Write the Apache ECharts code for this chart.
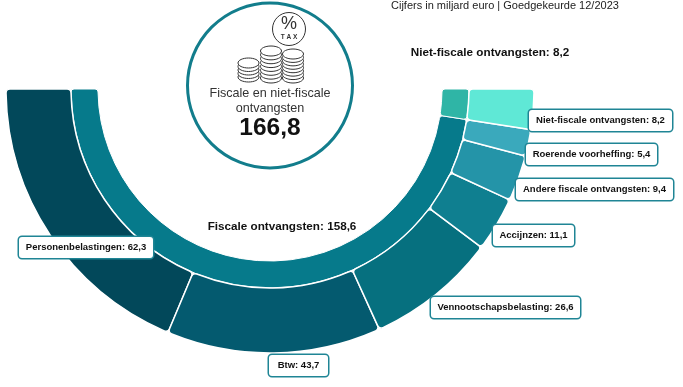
<!DOCTYPE html>
<html><head><meta charset="utf-8">
<style>html,body{margin:0;padding:0;background:#fff}#c{width:683px;height:387px}</style>
<script src="https://cdn.jsdelivr.net/npm/echarts@6/dist/echarts.min.js"></script>
</head><body><div id="c"></div>
<script>
const unitNote = 'Cijfers in miljard euro | Goedgekeurde 12/2023';
const centerTitle = ['Fiscale en niet-fiscale', 'ontvangsten'];
const totalLabel = '166,8';
const innerNames = ['Fiscale ontvangsten', 'Niet-fiscale ontvangsten'];
const innerValues = [158.6, 8.2];
const innerColors = ['#067a8b', '#2fb5a6'];
const outerNames = ['Personenbelastingen', 'Btw', 'Vennootschapsbelasting', 'Accijnzen', 'Andere fiscale ontvangsten', 'Roerende voorheffing', 'Niet-fiscale ontvangsten'];
const outerValues = [62.3, 43.7, 26.6, 11.1, 9.4, 5.4, 8.2];
const outerColors = ['#02485a', '#045a6f', '#06707f', '#0f7f90', '#2494a8', '#3aa9bc', '#5fe8d6'];
// label box positions: left, top, width
const outerBoxes = [[18,236,136],[268,354,61],[430,296,151],[492,224,83],[515,178,159],[525,143,133],[528,109,145]];
const innerLabelPos = [[282,227],[490,53]];

const fmt = v => v.toFixed(1).replace('.', ',');
const chart = echarts.init(document.getElementById('c'), null, {renderer:'canvas'});
const font = 'Liberation Sans';

function stack(cx, top, bottom, n){
  const out = [];
  const step = (bottom-top)/(n-1);
  for(let i=n-1;i>=0;i--){
    out.push({type:'ellipse', shape:{cx:cx, cy:top+i*step, rx:10.5, ry:5}, style:{fill:'#fff', stroke:'#333', lineWidth:1}, z:5});
  }
  return out;
}

chart.setOption({
  animation:false,
  series:[
    {type:'pie', center:[270,89], radius:[172,199], startAngle:180, endAngle:360, clockwise:false,
     silent:true, itemStyle:{borderRadius:3, borderColor:'#fff', borderWidth:1},
     labelLine:{show:false},
     label:{show:true, position:'inside', fontFamily:font, fontWeight:'bold', fontSize:11.7, color:'#111',
            align:'center', verticalAlign:'middle', formatter:p=>p.name+': '+fmt(p.value)},
     labelLayout:p=>{const q=innerLabelPos[p.dataIndex];return {x:q[0],y:q[1],align:'center',verticalAlign:'middle'};},
     data:innerNames.map((n,i)=>({name:n,value:innerValues[i],itemStyle:{color:innerColors[i]}}))},
    {type:'pie', center:[270,89], radius:[199,264], startAngle:180, endAngle:360, clockwise:false,
     silent:true, itemStyle:{borderRadius:4, borderColor:'#fff', borderWidth:1.5},
     labelLine:{show:false},
     label:{show:true, position:'inside', fontFamily:font, fontWeight:'bold', fontSize:9.5, color:'#111',
            backgroundColor:'#fff', borderColor:'#1f8595', borderWidth:1.5, borderRadius:3,
            height:21, lineHeight:21, align:'center', verticalAlign:'middle', overflow:'none',
            formatter:p=>p.name+': '+fmt(p.value)},
     labelLayout:p=>{const b=outerBoxes[p.dataIndex];return {x:b[0]+b[2]/2,y:b[1]+11.5,align:'center',verticalAlign:'middle'};},
     data:outerNames.map((n,i)=>({name:n,value:outerValues[i],itemStyle:{color:outerColors[i]},
        label:{width:outerBoxes[i][2]-2}}))}
  ],
  graphic:[
    {type:'text', x:391, y:5.5, style:{text:unitNote, font:'11px '+font, fill:'#222', textVerticalAlign:'middle'}},
    {type:'circle', shape:{cx:270,cy:85.5,r:82.5}, style:{fill:'#fff', stroke:'#127d8c', lineWidth:3}, z:4},
    {type:'circle', shape:{cx:289,cy:29,r:16.5}, style:{fill:'#fff', stroke:'#333', lineWidth:1}, z:5},
    {type:'text', x:289, y:24.5, z:6, style:{text:'%', font:'18px '+font, fill:'#333', textAlign:'center', textVerticalAlign:'middle'}},
    {type:'text', x:289, y:37.5, z:6, style:{text:'T A X', font:'bold 6.5px '+font, fill:'#333', textAlign:'center', textVerticalAlign:'middle'}},
    ...stack(248.5,63,77,5), ...stack(271,51,78,8), ...stack(293,54,78,8),
    {type:'text', x:270, y:93.5, z:6, style:{text:centerTitle[0], font:'12.6px '+font, fill:'#333', textAlign:'center', textVerticalAlign:'middle'}},
    {type:'text', x:270, y:109, z:6, style:{text:centerTitle[1], font:'12.6px '+font, fill:'#333', textAlign:'center', textVerticalAlign:'middle'}},
    {type:'text', x:270, y:128.5, z:6, style:{text:totalLabel, font:'bold 24.5px '+font, fill:'#111', textAlign:'center', textVerticalAlign:'middle'}}
  ]
});
</script></body></html>
